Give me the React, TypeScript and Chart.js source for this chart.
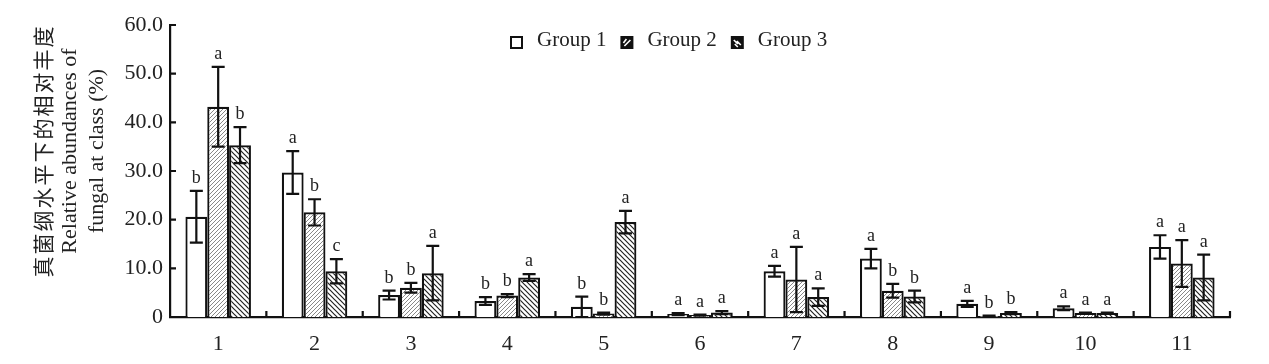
import React, { useEffect, useRef } from "react";
import { Chart, registerables } from "chart.js";

Chart.register(...registerables);

const categories = ["1", "2", "3", "4", "5", "6", "7", "8", "9", "10", "11"];
const seriesNames = ["Group 1", "Group 2", "Group 3"];

const group1 = [20.6, 29.7, 4.5, 3.3, 2.1, 0.6, 9.4, 12.0, 2.7, 1.8, 14.4];
const group1Err = [5.3, 4.4, 0.9, 0.8, 2.1, 0.2, 1.1, 2.0, 0.6, 0.4, 2.4];
const group1Letters = ["b", "a", "b", "b", "b", "a", "a", "a", "a", "a", "a"];

const group2 = [43.2, 21.5, 6.0, 4.4, 0.7, 0.4, 7.7, 5.4, 0.2, 0.8, 11.0];
const group2Err = [8.2, 2.7, 1.0, 0.3, 0.2, 0.1, 6.7, 1.4, 0.1, 0.1, 4.8];
const group2Letters = ["a", "b", "b", "b", "b", "a", "a", "b", "b", "a", "a"];

const group3 = [35.3, 9.4, 9.0, 8.1, 19.5, 0.9, 4.1, 4.2, 0.8, 0.8, 8.1];
const group3Err = [3.7, 2.5, 5.6, 0.7, 2.3, 0.3, 1.8, 1.2, 0.2, 0.1, 4.7];
const group3Letters = ["b", "c", "a", "a", "a", "a", "a", "b", "b", "a", "a"];

const yMin = 0;
const yMax = 60;
const yStep = 10;

const yTitleLines = ["真菌纲水平下的相对丰度", "Relative abundances of", "fungal at class (%)"];

const errors = [group1Err, group2Err, group3Err];
const letters = [group1Letters, group2Letters, group3Letters];

const SERIF = '"Liberation Serif", "Times New Roman", serif';
const CJK = '"Liberation Serif", "Noto Sans CJK SC", serif';

function makeHatch(
  ctx: CanvasRenderingContext2D,
  size: number,
  lineWidth: number,
  forward: boolean,
  color: string
) {
  const c = document.createElement("canvas");
  c.width = size;
  c.height = size;
  const g = c.getContext("2d")!;
  g.fillStyle = "#ffffff";
  g.fillRect(0, 0, size, size);
  g.strokeStyle = color;
  g.lineWidth = lineWidth;
  g.beginPath();
  if (forward) {
    g.moveTo(-size, size);
    g.lineTo(size, -size);
    g.moveTo(0, size);
    g.lineTo(size, 0);
    g.moveTo(0, 2 * size);
    g.lineTo(2 * size, 0);
  } else {
    g.moveTo(-size, -size);
    g.lineTo(2 * size, 2 * size);
    g.moveTo(-size, 0);
    g.lineTo(size, 2 * size);
    g.moveTo(0, -size);
    g.lineTo(2 * size, size);
  }
  g.stroke();
  return ctx.createPattern(c, "repeat")!;
}

const overlayPlugin = {
  id: "overlay",
  afterDatasetsDraw(chart: any) {
    const ctx: CanvasRenderingContext2D = chart.ctx;
    const yScale = chart.scales.y;
    ctx.save();
    ctx.strokeStyle = "#111";
    ctx.fillStyle = "#222";
    ctx.lineWidth = 2.2;
    ctx.font = `18px ${SERIF}`;
    ctx.textAlign = "center";
    ctx.textBaseline = "alphabetic";
    chart.data.datasets.forEach((ds: any, i: number) => {
      const meta = chart.getDatasetMeta(i);
      meta.data.forEach((bar: any, j: number) => {
        const v = ds.data[j];
        const e = errors[i][j];
        const x = bar.x;
        const top = yScale.getPixelForValue(v + e);
        const bot = yScale.getPixelForValue(Math.max(0, v - e));
        const cap = 6.5;
        ctx.beginPath();
        ctx.moveTo(x, top);
        ctx.lineTo(x, bot);
        ctx.moveTo(x - cap, top);
        ctx.lineTo(x + cap, top);
        ctx.moveTo(x - cap, bot);
        ctx.lineTo(x + cap, bot);
        ctx.stroke();
        ctx.fillText(letters[i][j], x, top - 8);
      });
    });
    ctx.restore();
  },
  afterDraw(chart: any) {
    const ctx: CanvasRenderingContext2D = chart.ctx;
    const area = chart.chartArea;
    const xScale = chart.scales.x;
    const yScale = chart.scales.y;
    ctx.save();
    ctx.strokeStyle = "#111";
    ctx.lineWidth = 2.2;
    ctx.beginPath();
    for (let v = yMin; v <= yMax; v += yStep) {
      const y = yScale.getPixelForValue(v);
      ctx.moveTo(area.left, y);
      ctx.lineTo(area.left + 6, y);
    }
    for (let k = 0; k < categories.length; k++) {
      const x = xScale.getPixelForValue(k + 0.5);
      ctx.moveTo(x, area.bottom);
      ctx.lineTo(x, area.bottom - 6);
    }
    ctx.stroke();

    // y-axis title
    ctx.fillStyle = "#222";
    ctx.textAlign = "center";
    ctx.textBaseline = "middle";
    const titleX = [45, 70, 97];
    const titleY = 151;
    yTitleLines.forEach((line, idx) => {
      ctx.save();
      ctx.translate(titleX[idx], titleY);
      ctx.rotate(-Math.PI / 2);
      if (idx === 0) {
        ctx.font = `21px ${CJK}`;
        (ctx as any).letterSpacing = "2px";
      } else {
        ctx.font = `22px ${SERIF}`;
        (ctx as any).letterSpacing = "0px";
      }
      ctx.fillText(line, 0, 0);
      ctx.restore();
    });

    // legend
    let lx = 510;
    const ly = 36;
    const box = 13;
    ctx.font = `21px ${SERIF}`;
    ctx.textAlign = "left";
    ctx.textBaseline = "alphabetic";
    seriesNames.forEach((name, i) => {
      ctx.lineWidth = 2;
      if (i === 0) {
        ctx.fillStyle = "#fff";
        ctx.fillRect(lx, ly, box, box);
        ctx.strokeStyle = "#111";
        ctx.strokeRect(lx + 1, ly + 1, box - 2, box - 2);
      } else {
        ctx.fillStyle = "#111";
        ctx.fillRect(lx, ly, box, box);
        ctx.strokeStyle = "#fff";
        ctx.lineWidth = 1.6;
        ctx.beginPath();
        if (i === 1) {
          ctx.moveTo(lx + 4, ly + box - 3);
          ctx.lineTo(lx + box - 3, ly + 4);
          ctx.moveTo(lx + 3, ly + box - 6);
          ctx.lineTo(lx + 6, ly + 3);
        } else {
          ctx.moveTo(lx + 3, ly + 4);
          ctx.lineTo(lx + 7, ly + 8);
          ctx.moveTo(lx + 6, ly + 5);
          ctx.lineTo(lx + 10, ly + 9);
          ctx.moveTo(lx + 4, ly + 8);
          ctx.lineTo(lx + 7, ly + 11);
        }
        ctx.stroke();
      }
      ctx.fillStyle = "#222";
      ctx.fillText(name, lx + box + 14, ly + 10);
      const w = ctx.measureText(name).width;
      lx += box + 14 + w + 14;
    });
    ctx.restore();
  },
};

export default function App() {
  const canvasRef = useRef<HTMLCanvasElement | null>(null);

  useEffect(() => {
    document.body.style.margin = "0";
    const canvas = canvasRef.current!;
    const ctx = canvas.getContext("2d")!;
    const pat2 = makeHatch(ctx, 4, 0.7, true, "#555");
    const pat3 = makeHatch(ctx, 5, 1.2, false, "#222");

    const chart = new Chart(canvas, {
      type: "bar",
      data: {
        labels: categories,
        datasets: [
          {
            label: seriesNames[0],
            data: group1,
            backgroundColor: "#ffffff",
            borderColor: "#111",
            borderWidth: 2.2,
          },
          {
            label: seriesNames[1],
            data: group2,
            backgroundColor: pat2,
            borderColor: "#111",
            borderWidth: 2.2,
          },
          {
            label: seriesNames[2],
            data: group3,
            backgroundColor: pat3,
            borderColor: "#111",
            borderWidth: 2.2,
          },
        ],
      },
      options: {
        responsive: false,
        animation: false,
        devicePixelRatio: 1,
        layout: { padding: { left: 0, right: 39, top: 25, bottom: 0 } },
        plugins: {
          legend: { display: false },
          tooltip: { enabled: false },
          title: { display: false },
        },
        datasets: {
          bar: { categoryPercentage: 0.68, barPercentage: 1.0 },
        },
        scales: {
          x: {
            type: "category",
            offset: true,
            grid: { display: false, drawTicks: false },
            border: { display: true, color: "#111", width: 2.2 },
            ticks: {
              color: "#222",
              font: { family: SERIF, size: 22 },
              padding: 14,
              maxRotation: 0,
              autoSkip: false,
            },
            afterFit(scale: any) {
              scale.height = 47;
            },
          },
          y: {
            min: yMin,
            max: yMax,
            grid: { display: false, drawTicks: false },
            border: { display: true, color: "#111", width: 2.2 },
            ticks: {
              stepSize: yStep,
              color: "#222",
              font: { family: SERIF, size: 22 },
              padding: 7,
              callback: (v: any) => (Number(v) === 0 ? "0" : Number(v).toFixed(1)),
            },
            afterFit(scale: any) {
              scale.width = 170;
            },
          },
        },
      },
      plugins: [overlayPlugin],
    } as any);

    return () => chart.destroy();
  }, []);

  return (
    <div style={{ width: 1269, height: 364, background: "#fff" }}>
      <canvas ref={canvasRef} width={1269} height={364} style={{ display: "block" }} />
    </div>
  );
}
